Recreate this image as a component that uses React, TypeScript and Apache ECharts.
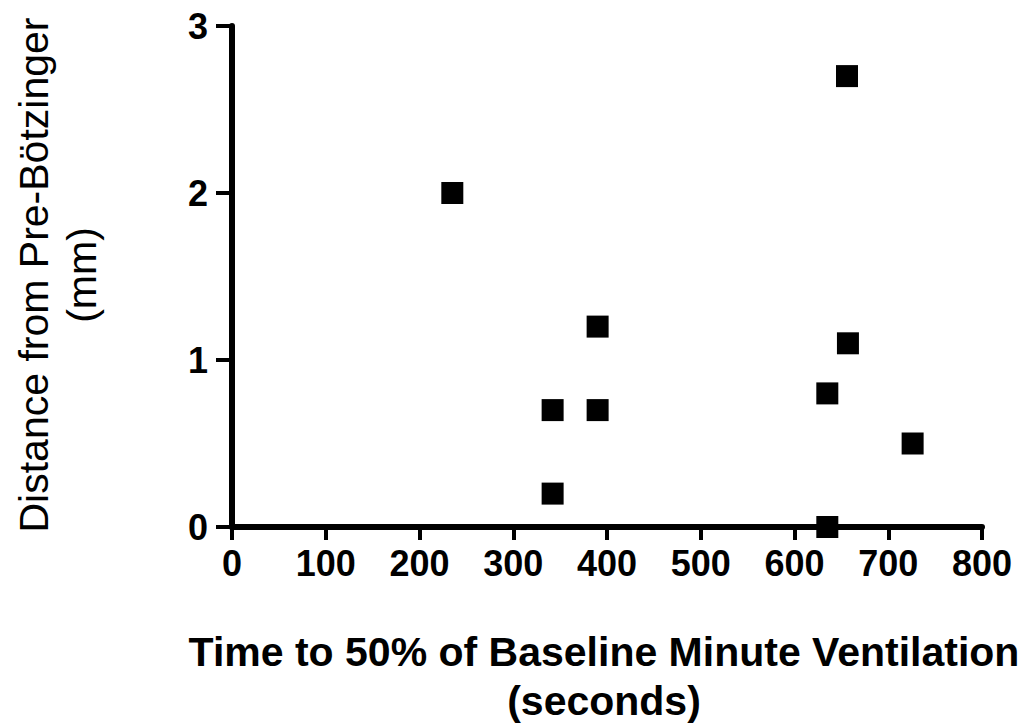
import React, { useEffect, useRef } from "react";
import * as echarts from "echarts";

const timeSeconds = [235, 342, 342, 390, 390, 635, 635, 656, 657, 726];
const distanceMm = [2.0, 0.7, 0.2, 1.2, 0.7, 0.8, 0.0, 2.7, 1.1, 0.5];
const xTitle = ["Time to 50% of Baseline Minute Ventilation", "(seconds)"];
const yTitle = ["Distance from Pre-Bötzinger", "(mm)"];

const FONT = "'Liberation Sans', Arial, sans-serif";

export default function App() {
  const ref = useRef<HTMLDivElement>(null);
  useEffect(() => {
    if (!ref.current) return;
    const chart = echarts.init(ref.current, undefined, { renderer: "svg" });
    const points = timeSeconds.map((t, i) => [t, distanceMm[i]]);
    chart.setOption({
      animation: false,
      backgroundColor: "#ffffff",
      grid: { left: 232, right: 50, top: 26, bottom: 197, containLabel: false },
      xAxis: {
        type: "value",
        min: 0,
        max: 800,
        interval: 100,
        axisLine: { show: true, onZero: false, lineStyle: { color: "#000", width: 6 } },
        axisTick: { show: true, length: 13, lineStyle: { color: "#000", width: 4 } },
        splitLine: { show: false },
        axisLabel: {
          color: "#000",
          fontFamily: FONT,
          fontWeight: "bold",
          fontSize: 36,
          margin: 18,
        },
      },
      yAxis: {
        type: "value",
        min: 0,
        max: 3,
        interval: 1,
        axisLine: { show: true, onZero: false, lineStyle: { color: "#000", width: 6 } },
        axisTick: { show: true, length: 16, lineStyle: { color: "#000", width: 4 } },
        splitLine: { show: false },
        axisLabel: {
          color: "#000",
          fontFamily: FONT,
          fontWeight: "bold",
          fontSize: 36,
          margin: 24,
        },
      },
      graphic: [
        {
          type: "text",
          x: 604,
          y: 627,
          style: {
            text: xTitle.join("\n"),
            x: 0,
            y: 0,
            textAlign: "center",
            textVerticalAlign: "top",
            fontFamily: FONT,
            fontWeight: "bold",
            fontSize: 41,
            lineHeight: 49,
            fill: "#000",
          },
        },
        {
          type: "text",
          rotation: Math.PI / 2,
          x: 10,
          y: 275,
          style: {
            text: yTitle.join("\n"),
            x: 0,
            y: 0,
            textAlign: "center",
            textVerticalAlign: "top",
            fontFamily: FONT,
            fontSize: 41,
            lineHeight: 48,
            fill: "#000",
          },
        },
      ],
      series: [
        {
          type: "scatter",
          data: points,
          symbol: "rect",
          symbolSize: 22,
          itemStyle: { color: "#000", opacity: 1 },
        },
      ],
    });
    return () => chart.dispose();
  }, []);
  return (
    <div
      ref={ref}
      style={{ position: "fixed", left: 0, top: 0, width: 1032, height: 724 }}
    />
  );
}
